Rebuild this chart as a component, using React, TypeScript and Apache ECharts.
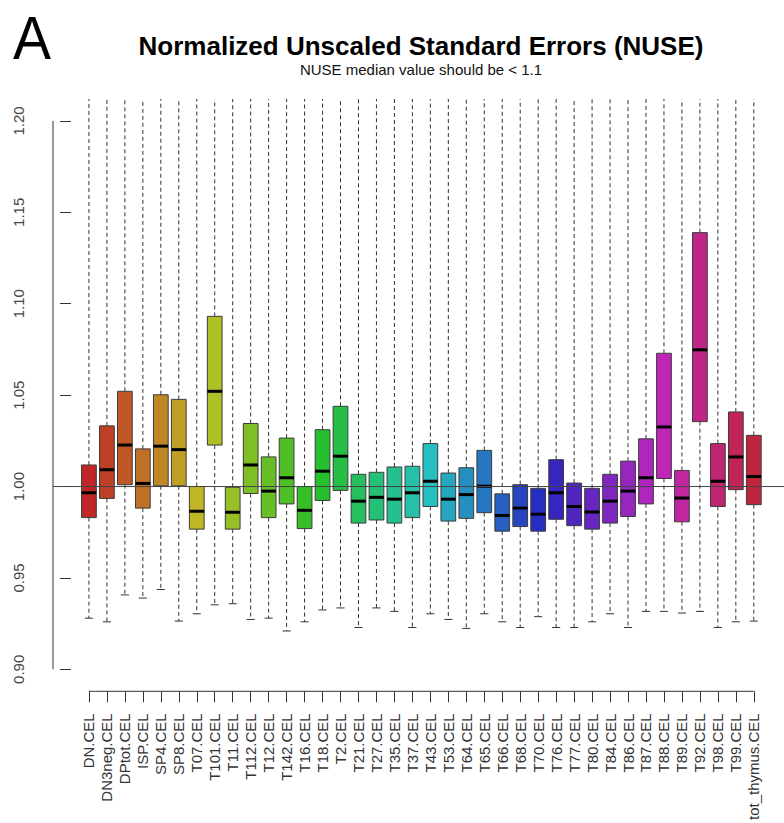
import React, { useEffect, useRef } from "react";
import * as echarts from "echarts";

// Arrays of per-sample NUSE summary statistics
const samples = [
  "DN.CEL", "DN3neg.CEL", "DPtot.CEL", "ISP.CEL", "SP4.CEL", "SP8.CEL", "T07.CEL",
  "T101.CEL", "T11.CEL", "T112.CEL", "T12.CEL", "T142.CEL", "T16.CEL", "T18.CEL",
  "T2.CEL", "T21.CEL", "T27.CEL", "T35.CEL", "T37.CEL", "T43.CEL", "T53.CEL",
  "T64.CEL", "T65.CEL", "T66.CEL", "T68.CEL", "T70.CEL", "T76.CEL", "T77.CEL",
  "T80.CEL", "T84.CEL", "T86.CEL", "T87.CEL", "T88.CEL", "T89.CEL", "T92.CEL",
  "T98.CEL", "T99.CEL", "tot_thymus.CEL",
];

const lowerWhisker = [
  0.928, 0.926, 0.9407, 0.939, 0.9437, 0.9264, 0.9304, 0.9353, 0.9359, 0.9273,
  0.928, 0.921, 0.926, 0.9325, 0.9336, 0.9229, 0.9336, 0.9317, 0.9229, 0.9304,
  0.9273, 0.9224, 0.9304, 0.926, 0.9229, 0.9288, 0.9229, 0.9229, 0.926, 0.9304,
  0.9229, 0.9317, 0.9317, 0.9308, 0.9317, 0.9229, 0.926, 0.9264,
];

const lowerHinge = [
  0.983, 0.9935, 1.001, 0.9882, 1.0004, 1.0004, 0.9767, 1.0227, 0.9767, 0.9962,
  0.983, 0.9905, 0.977, 0.9924, 0.9979, 0.98, 0.9817, 0.98, 0.983, 0.9891,
  0.9811, 0.9826, 0.9857, 0.9756, 0.9781, 0.9756, 0.9821, 0.9786, 0.9767, 0.98,
  0.9836, 0.9905, 1.0044, 0.9807, 1.0355, 0.9891, 0.9983, 0.9901,
];

const medians = [
  0.9966, 1.0092, 1.0227, 1.0017, 1.0221, 1.0202, 0.9865, 1.0521, 0.9859, 1.0118,
  0.9975, 1.0048, 0.987, 1.0084, 1.0166, 0.992, 0.9941, 0.9931, 0.9966, 1.0029,
  0.9931, 0.9956, 1.0002, 0.9842, 0.9882, 0.9849, 0.9966, 0.9891, 0.9861, 0.992,
  0.9975, 1.0048, 1.0326, 0.9937, 1.0748, 1.0029, 1.0162, 1.0055,
];

const upperHinge = [
  1.0118, 1.0332, 1.0521, 1.0206, 1.0502, 1.0477, 1.0, 1.0931, 0.9996, 1.0345,
  1.0162, 1.0265, 1.0, 1.0311, 1.0439, 1.0067, 1.0078, 1.0107, 1.0111, 1.0235,
  1.0074, 1.0103, 1.0198, 0.996, 1.001, 0.999, 1.0147, 1.0019, 0.999, 1.0067,
  1.0139, 1.0261, 1.0729, 1.0088, 1.1389, 1.0235, 1.0408, 1.028,
];

// Upper whiskers all run past the top of the plotting window
const upperWhisker = [
  1.25, 1.25, 1.25, 1.25, 1.25, 1.25, 1.25, 1.25, 1.25, 1.25,
  1.25, 1.25, 1.25, 1.25, 1.25, 1.25, 1.25, 1.25, 1.25, 1.25,
  1.25, 1.25, 1.25, 1.25, 1.25, 1.25, 1.25, 1.25, 1.25, 1.25,
  1.25, 1.25, 1.25, 1.25, 1.25, 1.25, 1.25, 1.25,
];

const yTicks = [0.9, 0.95, 1.0, 1.05, 1.1, 1.15, 1.2];
const referenceLevel = 1.0;

const FONT = "'Liberation Sans', Arial, Helvetica, sans-serif";

// rainbow palette (hue sweep around the colour wheel)
function hsv(h: number, s: number, v: number): string {
  const c = v * s;
  const hp = (h % 360) / 60;
  const x = c * (1 - Math.abs((hp % 2) - 1));
  let r = 0, g = 0, b = 0;
  if (hp < 1) [r, g, b] = [c, x, 0];
  else if (hp < 2) [r, g, b] = [x, c, 0];
  else if (hp < 3) [r, g, b] = [0, c, x];
  else if (hp < 4) [r, g, b] = [0, x, c];
  else if (hp < 5) [r, g, b] = [x, 0, c];
  else [r, g, b] = [c, 0, x];
  const m = v - c;
  const toHex = (n: number) => Math.round((n + m) * 255).toString(16).padStart(2, "0");
  return "#" + toHex(r) + toHex(g) + toHex(b);
}

const palette = samples.map((_, i) => hsv((i * 360) / samples.length, 0.8, 0.75));

export default function App() {
  const ref = useRef<HTMLDivElement>(null);

  useEffect(() => {
    if (!ref.current) return;
    const chart = echarts.init(ref.current, undefined, { renderer: "svg" });

    const xMin = -1;
    const xMax = 39.68;
    const yMin = 0.888;
    const yMax = 1.212;

    const boxData = samples.map((_, i) => [
      i + 1,
      lowerWhisker[i],
      lowerHinge[i],
      medians[i],
      upperHinge[i],
      upperWhisker[i],
    ]);

    const option: echarts.EChartsOption = {
      animation: false,
      backgroundColor: "#ffffff",
      grid: { left: 53, right: 0, top: 99, bottom: 131, containLabel: false },
      xAxis: {
        type: "value",
        min: xMin,
        max: xMax,
        splitLine: { show: false },
        axisLine: { show: false },
        axisTick: {
          show: true,
          length: 11,
          customValues: samples.map((_, i) => i + 1),
          lineStyle: { color: "#333", width: 1 },
        },
        axisLabel: {
          show: true,
          rotate: 90,
          margin: 22,
          customValues: samples.map((_, i) => i + 1),
          formatter: (v: number) => samples[Math.round(v) - 1] ?? "",
          color: "#333",
          fontSize: 15,
          fontFamily: FONT,
        },
      },
      yAxis: {
        type: "value",
        min: yMin,
        max: yMax,
        splitLine: { show: false },
        axisLine: { show: false },
        axisTick: {
          show: true,
          length: 11,
          customValues: yTicks,
          lineStyle: { color: "#333", width: 1 },
        },
        axisLabel: {
          show: true,
          rotate: 90,
          margin: 27,
          customValues: yTicks,
          formatter: (v: number) => v.toFixed(2),
          color: "#444",
          fontSize: 15,
          fontFamily: FONT,
        },
      },
      graphic: [
        {
          type: "text",
          x: 13,
          y: 7,
          scaleX: 0.92,
          style: { text: "A", font: `normal 62px ${FONT}`, fill: "#000", textAlign: "left", textVerticalAlign: "top" },
        },
        {
          type: "text",
          x: 421,
          y: 33,
          style: {
            text: "Normalized Unscaled Standard Errors (NUSE)",
            font: `bold 26px ${FONT}`,
            fill: "#000",
            textAlign: "center",
            textVerticalAlign: "top",
          },
        },
        {
          type: "text",
          x: 421,
          y: 62,
          style: {
            text: "NUSE median value should be < 1.1",
            font: `normal 15px ${FONT}`,
            fill: "#111",
            textAlign: "center",
            textVerticalAlign: "top",
          },
        },
      ],
      series: [
        {
          type: "custom",
          name: "NUSE",
          clip: true,
          data: boxData,
          encode: { x: 0, y: [1, 2, 3, 4, 5] },
          renderItem: (params: any, api: any) => {
            const x = api.value(0);
            const pLow = api.coord([x, api.value(1)]);
            const pQ1 = api.coord([x, api.value(2)]);
            const pMed = api.coord([x, api.value(3)]);
            const pQ3 = api.coord([x, api.value(4)]);
            const pHigh = api.coord([x, api.value(5)]);
            const unit = api.size([1, 0])[0];
            const half = unit * 0.41;
            const capHalf = half * 0.55;
            const cx = pMed[0];
            const dash = { stroke: "#333", lineWidth: 1, lineDash: [4, 3] };
            return {
              type: "group",
              children: [
                { type: "line", shape: { x1: cx, y1: pQ3[1], x2: cx, y2: pHigh[1] }, style: dash },
                { type: "line", shape: { x1: cx, y1: pQ1[1], x2: cx, y2: pLow[1] }, style: dash },
                {
                  type: "line",
                  shape: { x1: cx - capHalf, y1: pLow[1], x2: cx + capHalf, y2: pLow[1] },
                  style: { stroke: "#333", lineWidth: 1 },
                },
                {
                  type: "line",
                  shape: { x1: cx - capHalf, y1: pHigh[1], x2: cx + capHalf, y2: pHigh[1] },
                  style: { stroke: "#333", lineWidth: 1 },
                },
                {
                  type: "rect",
                  shape: { x: cx - half, y: pQ3[1], width: half * 2, height: pQ1[1] - pQ3[1] },
                  style: { fill: palette[params.dataIndex], stroke: "#3c3c3c", lineWidth: 1 },
                },
                {
                  type: "line",
                  shape: { x1: cx - half, y1: pMed[1], x2: cx + half, y2: pMed[1] },
                  style: { stroke: "#000", lineWidth: 3 },
                },
              ],
            };
          },
          z: 2,
        },
        {
          type: "custom",
          name: "frame",
          clip: false,
          silent: true,
          data: [[1, referenceLevel]],
          encode: { x: 0, y: 1 },
          renderItem: (params: any, api: any) => {
            const yBottom = api.coord([1, yTicks[0]]);
            const yTop = api.coord([1, yTicks[yTicks.length - 1]]);
            const left = api.coord([xMin, yMin])[0];
            const xFirst = api.coord([1, yMin]);
            const xLast = api.coord([samples.length, yMin]);
            const ref1 = api.coord([xMin, referenceLevel]);
            const ref2 = api.coord([xMax, referenceLevel]);
            const axisStyle = { stroke: "#333", lineWidth: 1 };
            return {
              type: "group",
              children: [
                { type: "line", shape: { x1: left, y1: yBottom[1], x2: left, y2: yTop[1] }, style: axisStyle },
                { type: "line", shape: { x1: xFirst[0], y1: xFirst[1], x2: xLast[0], y2: xLast[1] }, style: axisStyle },
                { type: "line", shape: { x1: ref1[0], y1: ref1[1], x2: ref2[0], y2: ref2[1] }, style: { stroke: "#444", lineWidth: 1 } },
              ],
            };
          },
          z: 5,
        },
      ],
    };

    chart.setOption(option);
    return () => chart.dispose();
  }, []);

  return (
    <div
      ref={ref}
      style={{ position: "fixed", left: 0, top: 0, width: 784, height: 823, background: "#fff" }}
    />
  );
}
